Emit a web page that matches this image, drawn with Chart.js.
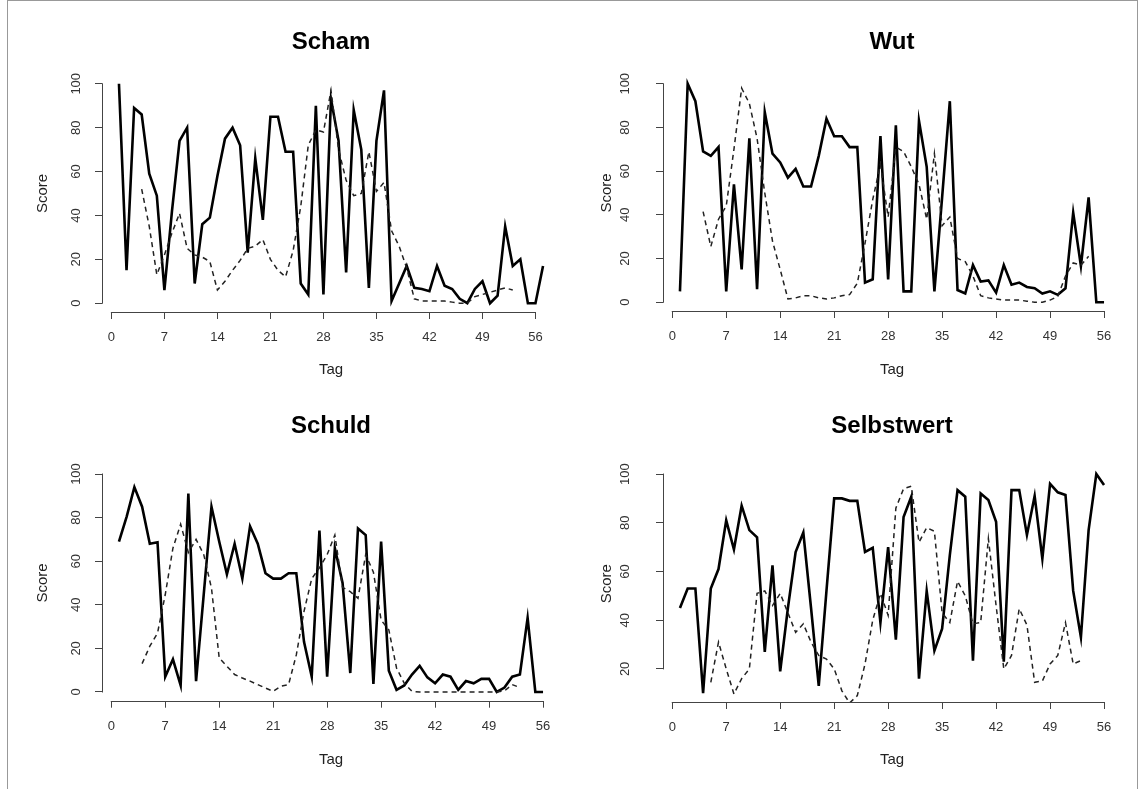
<!DOCTYPE html>
<html><head><meta charset="utf-8">
<script src="https://cdn.jsdelivr.net/npm/chart.js@4.4.0/dist/chart.umd.min.js"></script>
<style>
html,body{margin:0;padding:0;background:#fff;overflow:hidden;width:1144px;height:789px;position:relative;}
#frame{position:absolute;left:7px;top:0;width:1129px;height:800px;border-left:1px solid #999;border-top:1px solid #999;border-right:1px solid #999;}
canvas.p{position:absolute;}
</style></head><body>
<div id="frame"></div>
<canvas id="c1" class="p" width="662" height="394" style="left:0px;top:0px"></canvas>
<canvas id="c2" class="p" width="664" height="394" style="left:560px;top:0px"></canvas>
<canvas id="c3" class="p" width="662" height="395" style="left:0px;top:394px"></canvas>
<canvas id="c4" class="p" width="664" height="395" style="left:560px;top:394px"></canvas>
<script>
// ---- data ----
const xTicks = [0, 7, 14, 21, 28, 35, 42, 49, 56];
const yTicks = [0, 20, 40, 60, 80, 100];
const yTicksSelbst = [20, 40, 60, 80, 100];

const daysScham = [1,2,3,4,5,6,7,8,9,10,11,12,13,14,15,16,17,18,19,20,21,22,23,24,25,26,27,28,29,30,31,32,33,34,35,36,37,38,39,40,41,42,43,44,45,46,47,48,49,50,51,52,53,54,55,56,57];
const days56 = [1,2,3,4,5,6,7,8,9,10,11,12,13,14,15,16,17,18,19,20,21,22,23,24,25,26,27,28,29,30,31,32,33,34,35,36,37,38,39,40,41,42,43,44,45,46,47,48,49,50,51,52,53,54,55,56];

const schamSolid = [100,15,89,86,59,49,6,42,74,80,9,36,39,58,75,80,72,23,66,38,85,85,69,69,9,4,90,4,93,74,14,88,70,7,74,97,1,9,17,7,6.5,5.5,17,8,6.5,2,0,6.5,10,0,3.5,35,17,20,0,0,17];
const schamDashed = [null,null,null,52,35,13,22,32,41,25,22,21,19,6,10,15,19.5,25,26,29,20,15,12,24,44,72,79,78,97,70,56,49,50,69,51,55,33,26,16,2,1,1,1,1,0.5,0,0,3,4,5,6,7,6];

const wutSolid = [5,100,92,69,67,71,5,54,15,75,6,87,68,64,57,61,53,53,67,84,76,76,71,71,9,10.5,76,10.5,81,5,5,83,62,5,48,92,5.6,4,17,9.5,10,4.4,17,8,9,7,6.4,4,5,3.4,6.4,41,16.6,48,0,0];
const wutDashed = [null,null,null,41.5,25.5,38,44,70,98,91,75,50,28,15,1.5,2,3,3,2,1.5,2,3,3.5,8.7,27,47,63,39,71,69,62,54,38,68,35,39,20,18.6,12,3,2,1.5,1,1,1,0.5,0,0,1,2.6,12,18,17,21];

const schuldSolid = [69,80.5,94,85,68,68.7,7,15,3,91,5,45,85,69,54,68,52,76,68,54.5,52,52,54.5,54.5,23,7,74,7,66,50,8.7,75,72,3.7,69,9.8,1,3,8,12,6.7,4,8,7,1,5,4,6,6,0,2,7,8,34,0,0];
const schuldDashed = [null,null,null,13,21,27,44.6,66,77,64,70,63,47.6,15.6,11.8,8,6.4,5,3.4,1.8,0.3,2.6,3.4,17,37,52,57,63,72,48,46,43,63,55,33,28.5,11,4,0.3,0,0,0,0,0,0,0,0,0,0,0,0.5,3.4,2];

const selbstSolid = [45,53,53,10,53,61,81,69,87,77,74,27,62.5,19,45,68,76,45,13,52,90,90,89,89,68,69.7,39,70,32,82.4,90.7,16,52,27.5,36.5,66.7,93.4,90.7,23.4,92,89.3,80.4,23,93.4,93.4,75,91,65.3,96,92.5,91.4,52,33,77,100,95.5];
const selbstDashed = [null,null,null,null,14.5,31,20,9.7,16,20,51,52,46,51,43,35,38.5,31,25.5,24,20,11,6,9,22,40,51,42,86,94,95,72,78,76.5,43,39,56,50,38.5,39,73.5,46,20,25.5,44.7,38,14.5,15,22,25.5,39,22,23.4];

// ---- chart setup ----
Chart.defaults.font.family = "'Liberation Sans', Arial, Helvetica, sans-serif";
Chart.defaults.color = '#333';

const axisLines = {
  id: 'axisLines',
  afterDraw(chart, args, opts) {
    const {ctx, chartArea: a, scales: {x, y}} = chart;
    const yt = opts.yt;
    ctx.save();
    ctx.strokeStyle = '#444';
    ctx.lineWidth = 1;
    ctx.beginPath();
    const xl = Math.round(a.left) + 0.5;
    ctx.moveTo(xl, y.getPixelForValue(yt[0]) + 0.5);
    ctx.lineTo(xl, y.getPixelForValue(yt[yt.length - 1]) - 0.5);
    const yb = Math.round(a.bottom) + 0.5;
    ctx.moveTo(x.getPixelForValue(xTicks[0]) - 0.5, yb);
    ctx.lineTo(x.getPixelForValue(xTicks[xTicks.length - 1]) + 0.5, yb);
    ctx.stroke();
    ctx.restore();
  }
};

function pts(days, vals) {
  return vals.map((v, i) => ({x: days[i], y: v}));
}

function makePanel(id, cfg) {
  const gridOpts = {display: true, drawOnChartArea: false, drawTicks: true, tickLength: 7, color: '#444', lineWidth: 1};
  new Chart(document.getElementById(id), {
    type: 'line',
    data: {
      datasets: [
        {data: pts(cfg.days, cfg.dashed), borderColor: '#222', borderWidth: 1.5, borderDash: [5, 4], pointRadius: 0, tension: 0, fill: false},
        {data: pts(cfg.days, cfg.solid), borderColor: '#000', borderWidth: 2.6, pointRadius: 0, tension: 0, fill: false}
      ]
    },
    plugins: [axisLines],
    options: {
      responsive: false,
      animation: false,
      events: [],
      layout: {padding: 0},
      plugins: {
        legend: {display: false},
        tooltip: {enabled: false},
        title: {display: true, text: cfg.title, color: '#000', font: {size: 24, weight: 'bold'}, padding: {top: cfg.tPadTop, bottom: cfg.tPadBottom}},
        axisLines: {yt: cfg.yt}
      },
      scales: {
        x: {
          type: 'linear', position: 'bottom', min: cfg.xMin, max: cfg.xMax,
          grid: gridOpts, border: {display: false},
          afterBuildTicks: s => { s.ticks = xTicks.map(v => ({value: v})); },
          afterFit: s => { s.height = cfg.xH; },
          ticks: {autoSkip: false, maxRotation: 0, minRotation: 0, padding: 10.5, font: {size: 13}, color: '#333'},
          title: {display: true, text: 'Tag', font: {size: 15}, color: '#222', padding: {top: 0, bottom: cfg.tagPad}}
        },
        y: {
          type: 'linear', position: 'left', min: cfg.yMin, max: cfg.yMax,
          grid: gridOpts, border: {display: false},
          afterBuildTicks: s => { s.ticks = cfg.yt.map(v => ({value: v})); },
          afterFit: s => { s.width = cfg.yW; },
          ticks: {autoSkip: false, minRotation: 90, maxRotation: 90, crossAlign: 'center', padding: cfg.yPad, font: {size: 13}, color: '#333'},
          title: {display: true, text: 'Score', font: {size: 15}, color: '#222', padding: {top: cfg.scorePad, bottom: 0}}
        },
        yR: {
          type: 'linear', position: 'right', display: true,
          grid: {display: false}, border: {display: false},
          ticks: {display: false},
          afterFit: s => { s.width = cfg.rW; }
        }
      }
    }
  });
}

makePanel('c1', {title: 'Scham', days: daysScham, solid: schamSolid, dashed: schamDashed,
  xMin: -1.24, xMax: 59.24, yMin: -4, yMax: 104, yt: yTicks,
  yW: 102, rW: 102, xH: 82, tPadTop: 27.6, tPadBottom: 18.6, scorePad: 34, tagPad: 15, yPad: 8});
makePanel('c2', {title: 'Wut', days: days56, solid: wutSolid, dashed: wutDashed,
  xMin: -1.2, xMax: 58.2, yMin: -4, yMax: 104, yt: yTicks,
  yW: 103, rW: 103, xH: 83, tPadTop: 27.6, tPadBottom: 18.6, scorePad: 38, tagPad: 15, yPad: 20});
makePanel('c3', {title: 'Schuld', days: days56, solid: schuldSolid, dashed: schuldDashed,
  xMin: -1.2, xMax: 58.2, yMin: -4, yMax: 104, yt: yTicks,
  yW: 102, rW: 102, xH: 88.3, tPadTop: 17.6, tPadBottom: 24.9, scorePad: 34, tagPad: 20, yPad: 8});
makePanel('c4', {title: 'Selbstwert', days: days56, solid: selbstSolid, dashed: selbstDashed,
  xMin: -1.2, xMax: 58.2, yMin: 6.4, yMax: 103.6, yt: yTicksSelbst,
  yW: 103, rW: 103, xH: 87, tPadTop: 17.6, tPadBottom: 24.9, scorePad: 38, tagPad: 20, yPad: 20});
</script>
</body></html>
